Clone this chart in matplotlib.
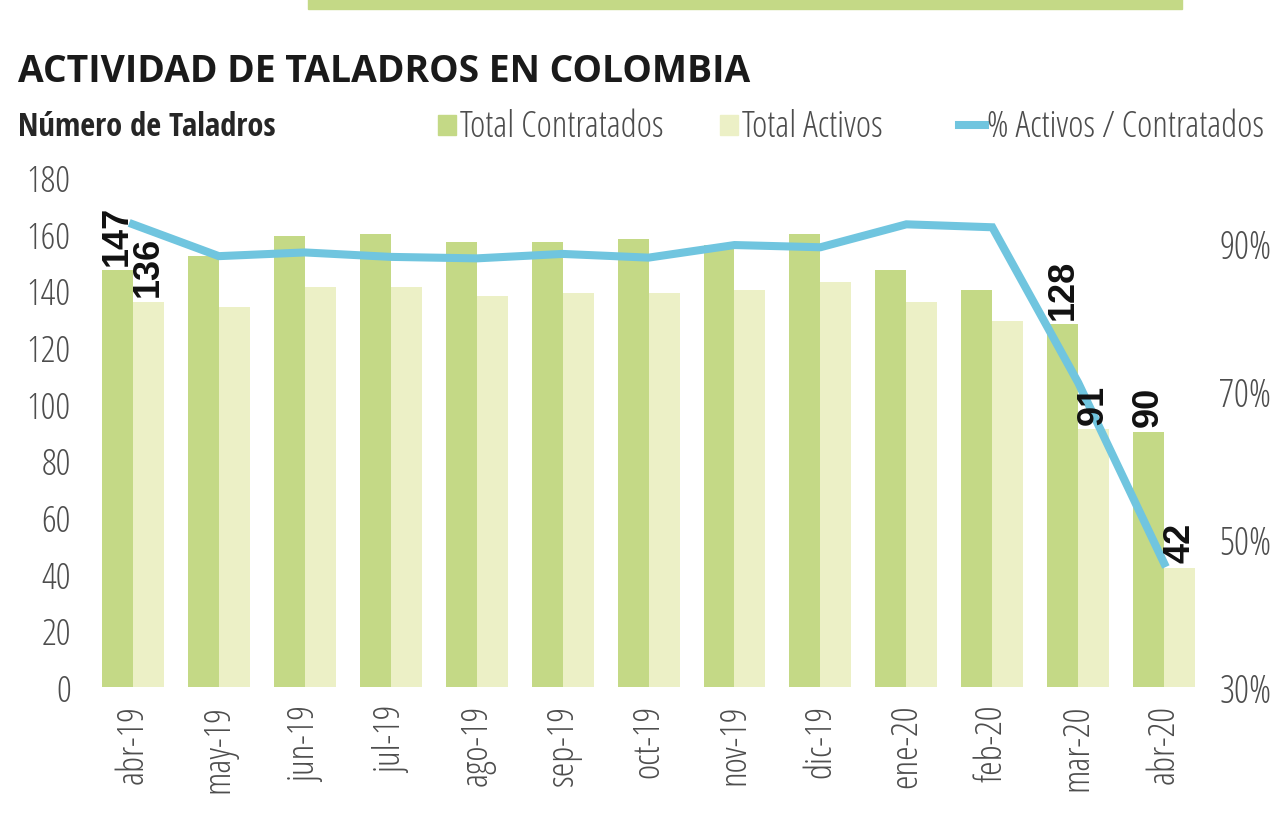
import matplotlib.pyplot as plt
import numpy as np
from matplotlib.patches import Rectangle
from matplotlib.lines import Line2D
from matplotlib.ticker import FuncFormatter

# Datos
meses = ['abr-19', 'may-19', 'jun-19', 'jul-19', 'ago-19', 'sep-19', 'oct-19',
         'nov-19', 'dic-19', 'ene-20', 'feb-20', 'mar-20', 'abr-20']
contratados = [147, 152, 159, 160, 157, 157, 158, 156, 160, 147, 140, 128, 90]
activos = [136, 134, 141, 141, 138, 139, 139, 140, 143, 136, 129, 91, 42]
pct_activos = [92.5, 88.2, 88.7, 88.1, 87.9, 88.5, 88.0, 89.7, 89.4, 92.5, 92.1, 71.1, 46.7]

# meses con etiqueta de valor
etiquetados = [0, 11, 12]

VERDE = '#c4d986'
VERDE_CLARO = '#ecf0c6'
AZUL = '#70c5df'
GRIS = '#4d4d4d'

# Open Sans light condensada para ejes y leyenda
plt.rcParams['font.family'] = ['Open Sans', 'DejaVu Sans']
plt.rcParams['font.weight'] = 300
plt.rcParams['font.stretch'] = 'condensed'

fig = plt.figure(figsize=(12.82, 8.2), dpi=100)
ax = fig.add_axes([0.0769, 0.161, 0.858, 0.622])

x = np.arange(len(meses))
w = 0.36
ax.bar(x - w / 2, contratados, width=w, color=VERDE, zorder=2)
ax.bar(x + w / 2, activos, width=w, color=VERDE_CLARO, zorder=2)

ax.set_xlim(-0.4, 12.4)
ax.set_ylim(0, 180)
ax.set_yticks(range(0, 181, 20))
ax.set_xticks(x)
ax.set_xticklabels(meses, rotation=90, color=GRIS, fontsize=26.5)
ax.tick_params(axis='y', length=0, pad=20, labelsize=26.5, labelcolor=GRIS)
ax.tick_params(axis='x', length=0, pad=12)
for s in ax.spines.values():
    s.set_visible(False)

ax2 = ax.twinx()
ax2.plot(x, pct_activos, color=AZUL, lw=5.8, solid_joinstyle='miter', zorder=3)
ax2.set_ylim(30, 98.9)
ax2.set_yticks([30, 50, 70, 90])
ax2.yaxis.set_major_formatter(FuncFormatter(lambda v, p: f'{v:.0f}%'))
ax2.tick_params(axis='y', length=0, pad=15, labelsize=27, labelcolor=GRIS)
for s in ax2.spines.values():
    s.set_visible(False)

# etiquetas de valor
for i in etiquetados:
    for dx, val in ((-w / 2, contratados[i]), (w / 2, activos[i])):
        ax2.annotate(str(val), xy=(x[i] + dx, val), xycoords=ax.transData,
                     xytext=(0, 4), textcoords='offset points',
                     rotation=90, ha='center', va='bottom',
                     fontsize=26, fontweight='bold', fontstretch='normal',
                     color='#111111', family=['Liberation Sans', 'DejaVu Sans'],
                     zorder=5)

# barra verde superior
fig.patches.append(Rectangle((0.240, 0.988), 0.682, 0.02, transform=fig.transFigure,
                             color=VERDE, zorder=1))

fig.text(0.014, 0.912, 'ACTIVIDAD DE TALADROS EN COLOMBIA', fontsize=26.8,
         fontweight='bold', fontstretch='normal', color='#1a1a1a',
         va='center', ha='left')
fig.text(0.014, 0.845, 'Número de Taladros', fontsize=23.5, fontweight='bold',
         family=['Open Sans Condensed', 'DejaVu Sans'], color='#262626',
         va='center', ha='left')

# leyenda
fig.patches.append(Rectangle((0.3417, 0.834), 0.0140, 0.024, transform=fig.transFigure,
                             color=VERDE))
fig.text(0.359, 0.845, 'Total Contratados', fontsize=26.5, color=GRIS, va='center')
fig.patches.append(Rectangle((0.5616, 0.834), 0.0140, 0.024, transform=fig.transFigure,
                             color=VERDE_CLARO))
fig.text(0.579, 0.845, 'Total Activos', fontsize=26.5, color=GRIS, va='center')
fig.lines.append(Line2D([0.748, 0.768], [0.846, 0.846], transform=fig.transFigure,
                        color=AZUL, lw=5.8))
fig.text(0.770, 0.845, '% Activos / Contratados', fontsize=26.5, color=GRIS, va='center')

fig.savefig('out.png', dpi=100)
